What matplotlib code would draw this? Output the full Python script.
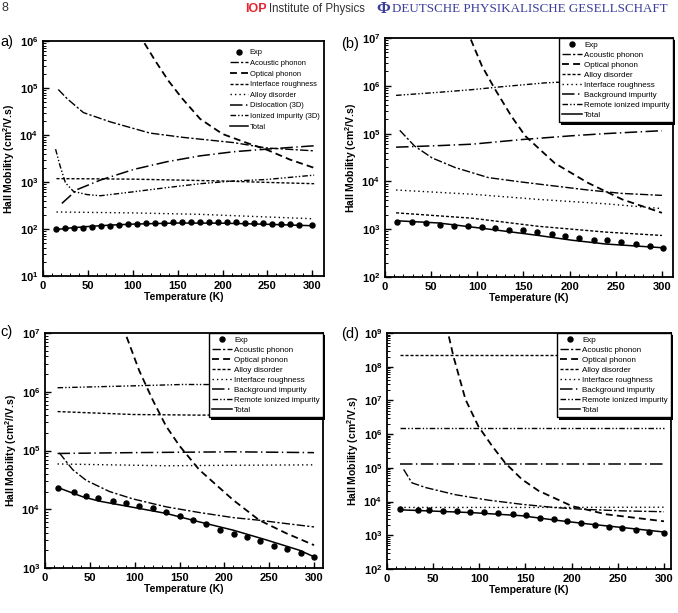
import numpy as np
import matplotlib
matplotlib.use('Agg')
import matplotlib.pyplot as plt
from matplotlib.ticker import FixedLocator, LogLocator, FuncFormatter, NullFormatter
from matplotlib.patches import Rectangle
from matplotlib.transforms import IdentityTransform

plt.rcParams['font.family'] = ['Liberation Sans', 'DejaVu Sans']
plt.rcParams['mathtext.fontset'] = 'custom'
plt.rcParams['mathtext.rm'] = 'Liberation Sans'
plt.rcParams['mathtext.bf'] = 'Liberation Sans:bold'
plt.rcParams['lines.scale_dashes'] = False

# ---------------- du lieu panel a ----------------
a_exp_T = [14, 25, 35, 45, 55, 65, 75, 85, 95, 105, 115, 125, 135, 145, 155, 165, 175,
           185, 195, 205, 215, 225, 235, 245, 255, 265, 275, 285, 300]
a_exp = [101, 103, 103, 106, 112, 114, 117, 121, 125, 127, 132, 134, 136, 138, 138, 141, 141,
         141, 141, 138, 138, 136, 134, 132, 129, 127, 125, 123, 119]
a_total_T = [14, 30, 50, 75, 100, 150, 200, 250, 302]
a_total = [97, 105, 113, 121, 127, 134, 133, 126, 117]
a_acoustic_T = [17, 27, 45, 75, 119, 156, 212, 249, 302]
a_acoustic = [93000, 59000, 30000, 19000, 11000, 8900, 6900, 5300, 4600]
a_optical_T = [113, 125, 140, 155, 175, 200, 225, 250, 275, 302]
a_optical = [9.0e5, 3.8e5, 1.4e5, 6.0e4, 2.2e4, 1.05e4, 7000, 4800, 3000, 2000]
a_interface_T = [15, 50, 100, 150, 200, 250, 302]
a_interface = [1180, 1170, 1150, 1100, 1050, 980, 920]
a_alloy_T = [15, 100, 175, 250, 302]
a_alloy = [230, 220, 205, 180, 165]
a_disloc_T = [21, 38, 64, 101, 138, 175, 212, 249, 302]
a_disloc = [350, 690, 1100, 1850, 2700, 3600, 4400, 5000, 5900]
a_ionized_T = [14, 19, 25, 34, 49, 64, 101, 138, 175, 212, 249, 302]
a_ionized = [5000, 2200, 960, 630, 540, 510, 620, 760, 920, 1050, 1130, 1400]

# ---------------- du lieu panel b ----------------
b_exp_T = [13, 29, 44, 60, 75, 90, 105, 119, 134, 149, 165, 181, 195, 210, 226, 240, 256, 272, 287, 301]
b_exp = [1430, 1400, 1360, 1250, 1190, 1160, 1100, 1050, 985, 953, 893, 798, 736, 668, 607, 588, 542,
         492, 447, 406]
b_total_T = [13, 58, 94, 130, 166, 202, 239, 300]
b_total = [1500, 1350, 1110, 910, 740, 590, 490, 410]
b_acoustic_T = [16, 32, 51, 76, 112, 148, 184, 220, 257, 300]
b_acoustic = [117000, 55000, 31000, 19500, 12000, 9700, 8000, 6600, 5600, 5100]
b_optical_T = [93, 105, 119, 137, 152, 184, 220, 257, 300]
b_optical = [9.3e6, 2.6e6, 8.6e5, 2.3e5, 8.9e4, 2.4e4, 9300, 4200, 2200]
b_alloy_T = [12, 94, 166, 239, 300]
b_alloy = [2200, 1700, 1150, 870, 740]
b_interface_T = [12, 94, 166, 239, 300]
b_interface = [6600, 5400, 4200, 3400, 2700]
b_backgr_T = [12, 58, 94, 148, 202, 239, 300]
b_backgr = [52000, 56000, 60000, 75000, 90000, 100000, 115000]
b_remote_T = [12, 58, 94, 130, 173, 230, 300]
b_remote = [6.3e5, 7.3e5, 8.3e5, 9.7e5, 1.15e6, 1.3e6, 1.5e6]

# ---------------- du lieu panel c ----------------
c_exp_T = [14, 32, 46, 59, 76, 90, 105, 120, 135, 150, 165, 180, 195, 211, 225, 240, 255, 270, 285, 300]
c_exp = [22600, 19300, 16900, 15300, 13900, 13000, 11300, 10300, 9040, 7620, 6510, 5560, 4510, 3850,
         3380, 2850, 2400, 2110, 1800, 1540]
c_total_T = [14, 42, 61, 98, 135, 172, 210, 247, 284, 300]
c_total = [23500, 16300, 13700, 10800, 8500, 6100, 4400, 3000, 2000, 1550]
c_acoustic_T = [16, 31, 46, 72, 98, 135, 172, 210, 239, 269, 300]
c_acoustic = [91000, 47000, 31000, 20000, 15000, 11000, 8800, 7200, 6500, 5700, 5000]
c_optical_T = [91, 105, 120, 135, 150, 172, 210, 239, 269, 300]
c_optical = [8.6e6, 2.3e6, 7.3e5, 2.6e5, 1.2e5, 4.7e4, 1.43e4, 6500, 3900, 2450]
c_alloy_T = [14, 98, 172, 250, 300]
c_alloy = [4.6e5, 4.1e5, 4.0e5, 4.1e5, 4.3e5]
c_interface_T = [14, 135, 210, 300]
c_interface = [5.9e4, 5.5e4, 5.6e4, 5.7e4]
c_backgr_T = [14, 98, 210, 300]
c_backgr = [8.9e4, 9.2e4, 9.5e4, 9.2e4]
c_remote_T = [14, 98, 154, 230, 300]
c_remote = [1.17e6, 1.26e6, 1.33e6, 1.32e6, 1.3e6]

# ---------------- du lieu panel d ----------------
d_exp_T = [14, 34, 46, 61, 76, 90, 105, 120, 136, 151, 166, 181, 195, 210, 225, 240, 255, 270, 284, 300]
d_exp = [5930, 5670, 5670, 5420, 5170, 5060, 4940, 4730, 4420, 3940, 3360, 3000, 2680, 2290, 1990,
         1780, 1590, 1450, 1290, 1130]
d_total_T = [14, 92, 146, 183, 219, 255, 300]
d_total = [5700, 4700, 3800, 2800, 2150, 1700, 1250]
d_acoustic_T = [18, 27, 42, 74, 110, 146, 183, 219, 255, 300]
d_acoustic = [90000, 36000, 26000, 16000, 11000, 8300, 6600, 5800, 5300, 5000]
d_optical_T = [67, 72, 85, 99, 114, 128, 146, 164, 200, 237, 300]
d_optical = [7.9e8, 2e8, 1.07e7, 1.7e6, 4.4e5, 1.4e5, 4.6e4, 2.1e4, 7400, 4200, 2600]
d_alloy_T = [14, 150, 300]
d_alloy = [2.3e8, 2.3e8, 2.3e8]
d_interface_T = [14, 150, 300]
d_interface = [6700, 6700, 6800]
d_backgr_T = [14, 150, 300]
d_backgr = [1.3e5, 1.3e5, 1.3e5]
d_remote_T = [14, 150, 300]
d_remote = [1.55e6, 1.55e6, 1.55e6]

# kieu duong cho tung co che tan xa
kieu = {
    'acoustic': dict(ls=(0, (6, 1.6, 1.6, 1.6)), lw=1.0),
    'optical': dict(ls=(0, (5, 3)), lw=1.3),
    'shortdash': dict(ls=(0, (2.2, 1.4)), lw=1.0),
    'dotted': dict(ls=(0, (1, 2.2)), lw=1.0),
    'longdash': dict(ls=(0, (9, 2.5, 1, 2.5)), lw=1.1),
    'dashdotdot': dict(ls=(0, (4, 1.5, 1, 1.5, 1, 1.5)), lw=1.0),
    'total': dict(ls='-', lw=1.1),
}


def VePanel(ax, exp_T, exp, series, ymin, ymax, xmax, legend_kw):
    ax.plot(exp_T, exp, 'o', color='black', ms=3.6, label='Exp', zorder=3)
    for T, v, lab, k in series:
        ax.plot(T, v, color='black', label=lab, **kieu[k])
    ax.set_yscale('log')
    ax.set_ylim(ymin, ymax)
    ax.set_xlim(0, xmax)
    ax.xaxis.set_major_locator(FixedLocator([0, 50, 100, 150, 200, 250, 300]))
    ax.xaxis.set_minor_locator(FixedLocator(np.arange(10, 310, 10)))
    ax.yaxis.set_major_locator(LogLocator(base=10, numticks=12))
    ax.yaxis.set_minor_locator(LogLocator(base=10, subs=np.arange(2, 10), numticks=12))
    ax.yaxis.set_minor_formatter(NullFormatter())
    ax.yaxis.set_major_formatter(FuncFormatter(lambda v, p: r'$\mathbf{10^{%d}}$' % round(np.log10(v))))
    ax.tick_params(which='both', direction='in', labelsize=8)
    ax.tick_params(which='major', length=4, width=1)
    ax.tick_params(which='minor', length=2, width=0.7)
    for lb in ax.get_xticklabels():
        lb.set_fontweight('bold')
    for s in ax.spines.values():
        s.set_linewidth(1.3)
    ax.set_xlabel('Temperature (K)', fontsize=7.5, fontweight='bold', labelpad=1)
    leg = ax.legend(**legend_kw)
    return leg


W, H = 678, 613
fig = plt.figure(figsize=(W / 100, H / 100), dpi=100)


def rect(l, r, t, b):
    return [l / W, (H - b) / H, (r - l) / W, (b - t) / H]


axA = fig.add_axes(rect(43, 324, 41, 276))
axB = fig.add_axes(rect(385, 673, 38, 277))
axC = fig.add_axes(rect(45, 323, 333, 568))
axD = fig.add_axes(rect(387, 671, 333, 569))

leg_a = dict(loc='upper right', bbox_to_anchor=(1.0, 0.985), fontsize=5.4, frameon=False,
             handlelength=2.4, labelspacing=0.45, handletextpad=0.3, borderaxespad=0.2)
leg_bcd = dict(loc='upper right', bbox_to_anchor=(1.0, 1.0), fontsize=5.8, frameon=True,
               fancybox=False, edgecolor='black', framealpha=1, handlelength=2.4,
               labelspacing=0.3, handletextpad=0.3, borderaxespad=0.0, borderpad=0.4)

VePanel(axA, a_exp_T, a_exp, [
    (a_acoustic_T, a_acoustic, 'Acoustic phonon', 'acoustic'),
    (a_optical_T, a_optical, 'Optical phonon', 'optical'),
    (a_interface_T, a_interface, 'Interface roughness', 'shortdash'),
    (a_alloy_T, a_alloy, 'Alloy disorder', 'dotted'),
    (a_disloc_T, a_disloc, 'Dislocation (3D)', 'longdash'),
    (a_ionized_T, a_ionized, 'Ionized impurity (3D)', 'dashdotdot'),
    (a_total_T, a_total, 'Total', 'total'),
], 10, 1e6, 313, leg_a)

nhan_bcd = ['Acoustic phonon', 'Optical phonon', 'Alloy disorder', 'Interface roughness',
            'Background impurity', 'Remote ionized impurity', 'Total']
kieu_bcd = ['acoustic', 'optical', 'shortdash', 'dotted', 'longdash', 'dashdotdot', 'total']

legB = VePanel(axB, b_exp_T, b_exp, list(zip(
    [b_acoustic_T, b_optical_T, b_alloy_T, b_interface_T, b_backgr_T, b_remote_T, b_total_T],
    [b_acoustic, b_optical, b_alloy, b_interface, b_backgr, b_remote, b_total],
    nhan_bcd, kieu_bcd)), 1e2, 1e7, 312, leg_bcd)
legC = VePanel(axC, c_exp_T, c_exp, list(zip(
    [c_acoustic_T, c_optical_T, c_alloy_T, c_interface_T, c_backgr_T, c_remote_T, c_total_T],
    [c_acoustic, c_optical, c_alloy, c_interface, c_backgr, c_remote, c_total],
    nhan_bcd, kieu_bcd)), 1e3, 1e7, 310, leg_bcd)
legD = VePanel(axD, d_exp_T, d_exp, list(zip(
    [d_acoustic_T, d_optical_T, d_alloy_T, d_interface_T, d_backgr_T, d_remote_T, d_total_T],
    [d_acoustic, d_optical, d_alloy, d_interface, d_backgr, d_remote, d_total],
    nhan_bcd, kieu_bcd)), 1e2, 1e9, 307.6, leg_bcd)

for ax in (axA, axB, axD):
    ax.set_ylabel('Hall Mobility (cm$^\\mathbf{2}$/V.s)', fontsize=7.5, fontweight='bold', labelpad=2)
axC.set_ylabel('Hall Mobility (cm$^\\mathbf{2}$//V.s)', fontsize=7.5, fontweight='bold', labelpad=2)

# bong do cua khung chu thich (lech 2 px)
fig.canvas.draw()
r = fig.canvas.get_renderer()
for ax, leg in ((axB, legB), (axC, legC), (axD, legD)):
    bb = leg.get_frame().get_window_extent(r)
    ax.add_patch(Rectangle((bb.x0 + 2.2, bb.y0 - 2.2), bb.width, bb.height, transform=IdentityTransform(),
                           facecolor='black', edgecolor='none', zorder=4.9, clip_on=False))

# nhan panel
fig.text(0 / W, 1 - 46 / H, 'a)', fontsize=10.5)
fig.text(341 / W, 1 - 48 / H, '(b)', fontsize=10.5)
fig.text(0 / W, 1 - 336 / H, 'c)', fontsize=10.5)
fig.text(341 / W, 1 - 338 / H, '(d)', fontsize=10.5)

# tieu de trang
fig.text(1 / W, 1 - 8 / H, '8', fontsize=9, va='center', color='#333333')
fig.text(245 / W, 1 - 9 / H, 'IOP', fontsize=9, fontweight='bold', color='#e3262f', va='center')
fig.text(269 / W, 1 - 9 / H, 'Institute of Physics', fontsize=8.3, color='#333333', va='center')
fig.text(376 / W, 1 - 9 / H, '\u03a6', fontsize=12, fontweight='bold', color='#3b3f9a', va='center',
         family='Liberation Serif')
fig.text(392 / W, 1 - 9 / H, 'DEUTSCHE PHYSIKALISCHE GESELLSCHAFT', fontsize=9.4, color='#3b3f9a',
         va='center', family='Liberation Serif')

fig.savefig('out.png', dpi=100)
